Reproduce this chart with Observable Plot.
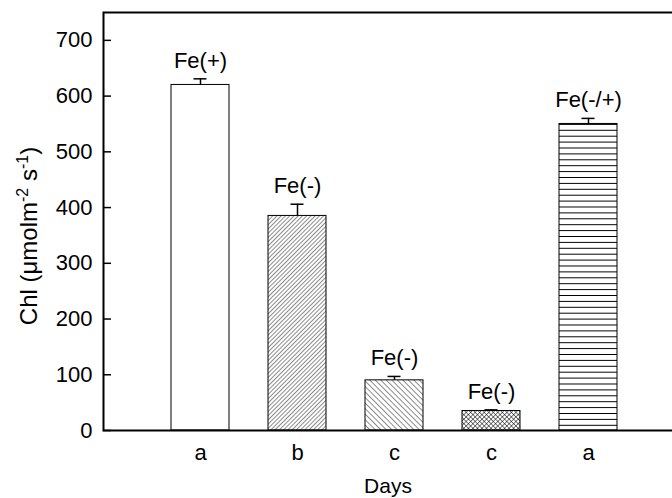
<!DOCTYPE html>
<html>
<head>
<meta charset="utf-8">
<script src="https://cdn.jsdelivr.net/npm/d3@7"></script>
<script src="https://cdn.jsdelivr.net/npm/@observablehq/plot@0.6"></script>
<style>
  body { margin: 0; background: #fff; }
  svg { display: block; }
</style>
</head>
<body>
<div id="chart"></div>
<script>
// ---- data ----
const letters = ["a", "b", "c", "c", "a"];
const treatments = ["Fe(+)", "Fe(-)", "Fe(-)", "Fe(-)", "Fe(-/+)"];
const chl = [620, 385, 90, 35, 550];
const errs = [11, 21, 7, 2, 10];
const yTicks = [0, 100, 200, 300, 400, 500, 600, 700];
// ---- styles ----
const fills = ["white", "url(#fwd)", "url(#back)", "url(#cross)", "url(#horiz)"];

const rows = chl.map((v, i) => ({i, v, e: errs[i], t: treatments[i], f: fills[i]}));
const font = "'Liberation Sans', Arial, Helvetica, sans-serif";
const fs = 22;

const chart = Plot.plot({
  width: 672,
  height: 498,
  marginLeft: 103,
  marginRight: 0,
  marginTop: 12,
  marginBottom: 68,
  style: {fontFamily: font, fontSize: fs + "px", color: "black", background: "white"},
  x: {domain: d3.range(letters.length), range: [103, 685], paddingInner: 0.4, paddingOuter: 0.7, label: null},
  y: {domain: [0, 750], label: null},
  color: {type: "identity"},
  marks: [
    Plot.barY(rows, {x: "i", y: "v", fill: "f", stroke: "black", strokeWidth: 1}),
    Plot.ruleX(rows, {x: "i", y1: "v", y2: d => d.v + d.e, stroke: "black", strokeWidth: 1.5}),
    Plot.tickY(rows, {x: "i", y: d => d.v + d.e, insetLeft: 22.5, insetRight: 22.5, stroke: "black", strokeWidth: 1.5}),
    Plot.text(rows, {x: "i", y: d => d.v + d.e, text: "t", dy: -11, lineAnchor: "bottom", fontSize: fs, fill: "black"}),
    Plot.frame({stroke: "black", strokeWidth: 2, insetRight: -10}),
    Plot.axisY({ticks: yTicks, tickSize: 0, tickPadding: 11, fontSize: fs, label: null}),
    Plot.axisY({ticks: yTicks, tickSize: 8, dx: 8, tickFormat: () => "", strokeWidth: 1.5, label: null}),
    Plot.axisX({tickSize: 0, tickPadding: 14, fontSize: fs, label: null, tickFormat: i => letters[i]}),
    Plot.text(["Days"], {frameAnchor: "bottom", dy: 62, lineAnchor: "bottom", fontSize: 21, fill: "black"})
  ]
});

const svg = d3.select(chart);
const defs = svg.insert("defs", ":first-child");
function linePattern(id, size, angle, cross, sw) {
  const p = defs.append("pattern").attr("id", id).attr("patternUnits", "userSpaceOnUse")
    .attr("width", size).attr("height", size).attr("patternTransform", `rotate(${angle})`);
  p.append("rect").attr("width", size).attr("height", size).attr("fill", "white");
  p.append("line").attr("x1", 0).attr("y1", 0).attr("x2", 0).attr("y2", size).attr("stroke", "black").attr("stroke-width", sw);
  if (cross) p.append("line").attr("x1", 0).attr("y1", 0).attr("x2", size).attr("y2", 0).attr("stroke", "black").attr("stroke-width", sw);
}
linePattern("fwd", 3, 45, false, 0.9);
linePattern("back", 3.9, -45, false, 0.9);
linePattern("cross", 3.2, 45, true, 1);
const hp = defs.append("pattern").attr("id", "horiz").attr("patternUnits", "userSpaceOnUse")
  .attr("width", 10).attr("height", 5.9);
hp.append("rect").attr("width", 10).attr("height", 5.9).attr("fill", "white");
hp.append("line").attr("x1", 0).attr("y1", 0.5).attr("x2", 10).attr("y2", 0.5).attr("stroke", "black").attr("stroke-width", 1);

// y axis title with superscripts
const yl = svg.append("text")
  .attr("transform", "translate(37,236) rotate(-90)")
  .attr("text-anchor", "middle")
  .attr("font-family", font)
  .attr("font-size", 24)
  .attr("fill", "black");
yl.append("tspan").text("Chl (\u03BCmolm");
yl.append("tspan").attr("font-size", 16).attr("dy", -9).text("-2");
yl.append("tspan").attr("dy", 9).text(" s");
yl.append("tspan").attr("font-size", 16).attr("dy", -9).text("-1");
yl.append("tspan").attr("dy", 9).text(")");

document.getElementById("chart").appendChild(chart);
</script>
</body>
</html>
